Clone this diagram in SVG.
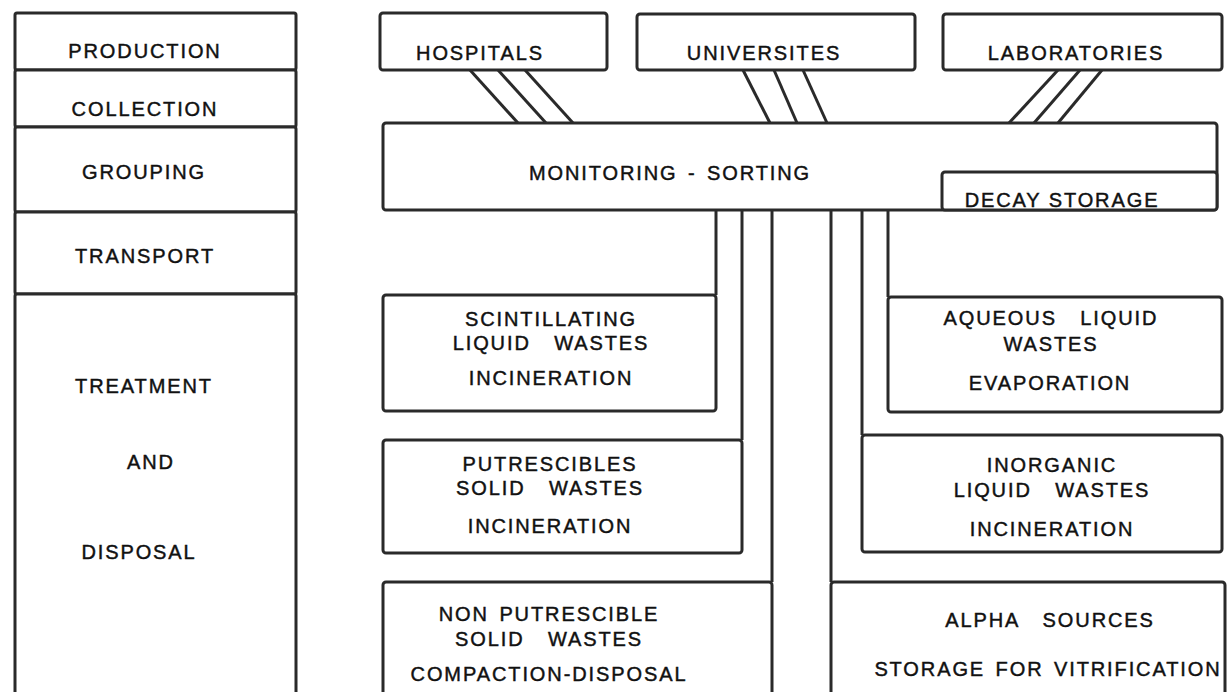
<svg xmlns="http://www.w3.org/2000/svg" width="1231" height="692" viewBox="0 0 1231 692">
<style>
.box{fill:#fff;stroke:#2a2a2a;stroke-width:3;}
.ln{stroke:#2a2a2a;stroke-width:3;fill:none;}
text{font-family:"Liberation Sans",Arial,sans-serif;font-size:20px;letter-spacing:1.9px;fill:#111;stroke:#111;stroke-width:0.45;text-anchor:middle;}
.w{word-spacing:16px;}
.s{word-spacing:3px;}
</style>
<rect width="1231" height="692" fill="#fff"/>
<g id="production"><rect class="box" x="15" y="13" width="281" height="57" rx="2"/><text x="145" y="58">PRODUCTION</text></g>
<g id="collection"><rect class="box" x="15" y="70" width="281" height="57" rx="2"/><text x="145" y="116">COLLECTION</text></g>
<g id="grouping"><rect class="box" x="15" y="127" width="281" height="85" rx="2"/><text x="144" y="179">GROUPING</text></g>
<g id="transport"><rect class="box" x="15" y="212" width="281" height="82" rx="2"/><text x="145" y="263">TRANSPORT</text></g>
<g id="treatment"><rect class="box" x="15" y="294" width="281" height="410" rx="2"/><text x="144" y="393">TREATMENT</text><text x="151" y="469">AND</text><text x="139" y="559">DISPOSAL</text></g>

<g id="connectors">
<line class="ln" x1="470" y1="70" x2="518" y2="123"/>
<line class="ln" x1="498" y1="70" x2="546" y2="123"/>
<line class="ln" x1="525" y1="70" x2="573" y2="123"/>
<line class="ln" x1="743" y1="70" x2="770" y2="123"/>
<line class="ln" x1="774" y1="70" x2="797" y2="123"/>
<line class="ln" x1="803" y1="70" x2="827" y2="123"/>
<line class="ln" x1="1058" y1="70" x2="1009" y2="123"/>
<line class="ln" x1="1080" y1="70" x2="1034" y2="123"/>
<line class="ln" x1="1102" y1="70" x2="1058" y2="123"/>
<line class="ln" x1="716" y1="210" x2="716" y2="295"/>
<line class="ln" x1="742" y1="210" x2="742" y2="440"/>
<line class="ln" x1="772" y1="210" x2="772" y2="582"/>
<line class="ln" x1="831" y1="210" x2="831" y2="582"/>
<line class="ln" x1="862" y1="210" x2="862" y2="435"/>
<line class="ln" x1="888" y1="210" x2="888" y2="297"/>
</g>

<g id="hospitals"><rect class="box" x="380" y="13" width="227" height="57" rx="3"/><text x="480" y="60">HOSPITALS</text></g>
<g id="universites"><rect class="box" x="637" y="14" width="278" height="56" rx="3"/><text x="764" y="60">UNIVERSITES</text></g>
<g id="laboratories"><rect class="box" x="943" y="14" width="279" height="56" rx="3"/><text x="1076" y="60">LABORATORIES</text></g>

<g id="monitoring"><rect class="box" x="383" y="123" width="834" height="87" rx="3"/><text class="s" x="670" y="180">MONITORING - SORTING</text></g>
<g id="decay"><rect class="box" x="942" y="172" width="275" height="38" rx="3"/><text x="1062" y="207">DECAY STORAGE</text></g>

<g id="scintillating"><rect class="box" x="383" y="295" width="333" height="116" rx="3"/><text x="551" y="326">SCINTILLATING</text><text class="w" x="551" y="350">LIQUID WASTES</text><text x="551" y="385">INCINERATION</text></g>
<g id="putrescibles"><rect class="box" x="383" y="440" width="359" height="113" rx="3"/><text x="550" y="471">PUTRESCIBLES</text><text class="w" x="550" y="495">SOLID WASTES</text><text x="550" y="533">INCINERATION</text></g>
<g id="nonputrescible"><rect class="box" x="383" y="582" width="389" height="125" rx="3"/><text class="s" x="549" y="621">NON PUTRESCIBLE</text><text class="w" x="549" y="646">SOLID WASTES</text><text x="549" y="681">COMPACTION-DISPOSAL</text></g>
<g id="aqueous"><rect class="box" x="888" y="297" width="334" height="115" rx="3"/><text class="w" x="1051" y="325">AQUEOUS LIQUID</text><text x="1051" y="351">WASTES</text><text x="1050" y="390">EVAPORATION</text></g>
<g id="inorganic"><rect class="box" x="862" y="435" width="360" height="117" rx="3"/><text x="1052" y="472">INORGANIC</text><text class="w" x="1052" y="497">LIQUID WASTES</text><text x="1052" y="536">INCINERATION</text></g>
<g id="alpha"><rect class="box" x="831" y="582" width="394" height="125" rx="3"/><text class="w" x="1050" y="627">ALPHA SOURCES</text><text class="s" x="1048" y="676">STORAGE FOR VITRIFICATION</text></g>
</svg>
